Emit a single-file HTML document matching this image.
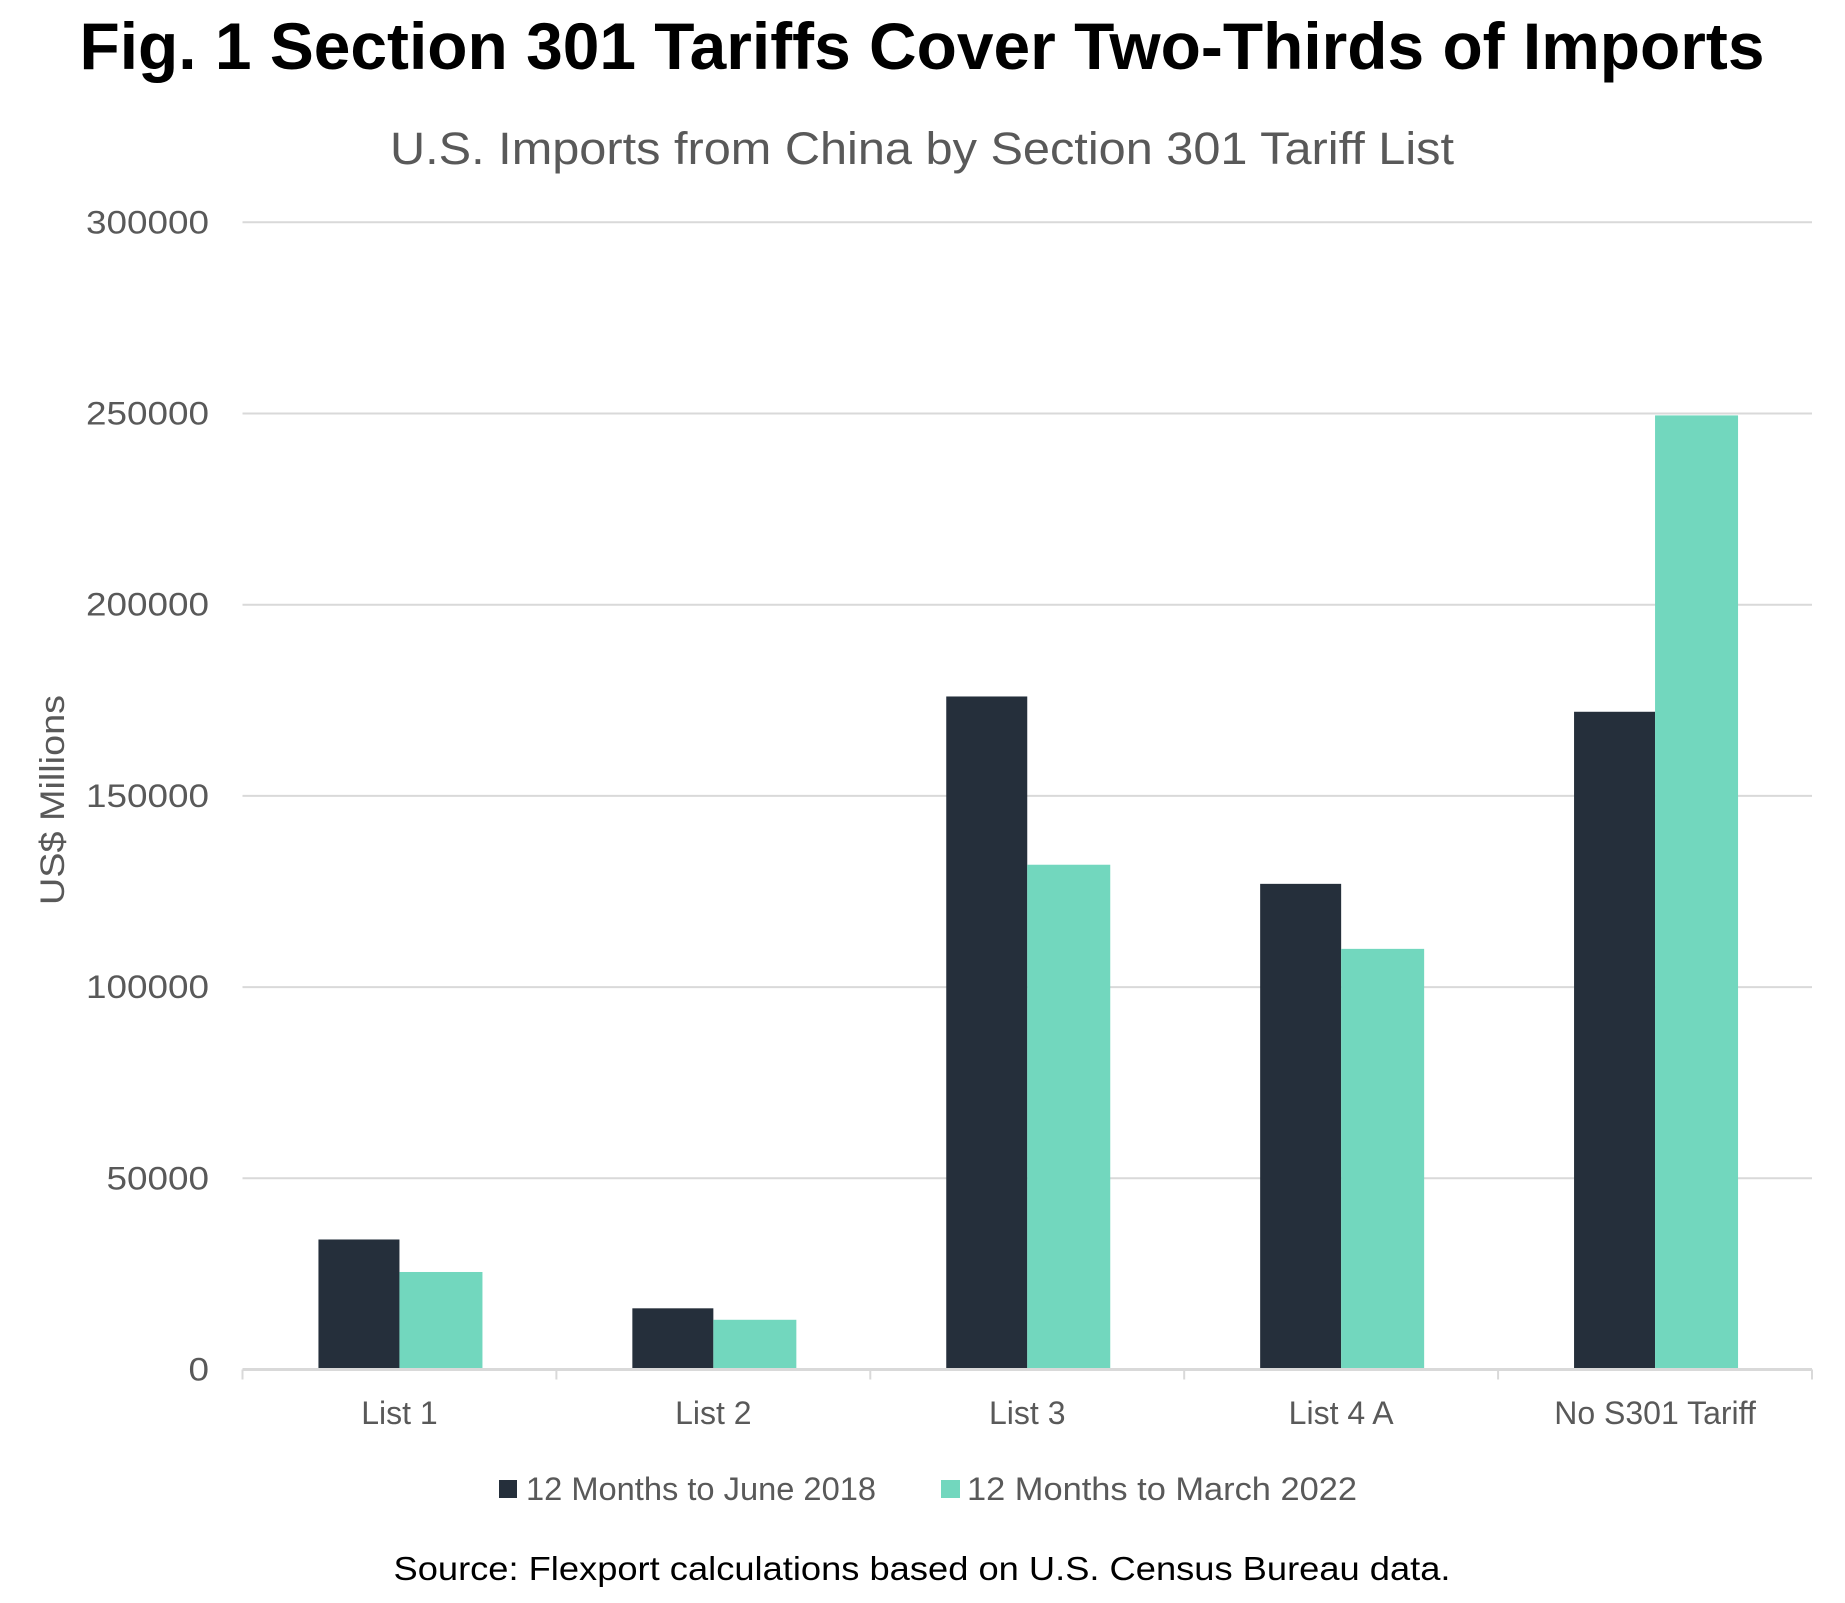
<!DOCTYPE html>
<html><head><meta charset="utf-8"><style>
html,body{margin:0;padding:0;background:#fff;}
svg{display:block;font-family:"Liberation Sans",sans-serif;}
</style></head><body>
<svg id="chart" width="1845" height="1603" viewBox="0 0 1845 1603">
<text x="922" y="69" text-anchor="middle" font-size="66" font-weight="bold" fill="#000" textLength="1685" lengthAdjust="spacingAndGlyphs">Fig. 1 Section 301 Tariffs Cover Two-Thirds of Imports</text>
<text x="922" y="164" text-anchor="middle" font-size="45" fill="#595959" textLength="1064" lengthAdjust="spacingAndGlyphs">U.S. Imports from China by Section 301 Tariff List</text>
<g id="grid"></g><g id="bars"></g><g id="axis"></g>
<text transform="translate(64,800) rotate(-90)" text-anchor="middle" font-size="34" fill="#595959" textLength="210" lengthAdjust="spacingAndGlyphs">US$ Millions</text>
<g>
<rect x="499" y="1480" width="18" height="18" fill="#252f3b"/>
<text x="526" y="1500" font-size="32" fill="#595959" textLength="350" lengthAdjust="spacingAndGlyphs">12 Months to June 2018</text>
<rect x="941" y="1480" width="19" height="18" fill="#72d7be"/>
<text x="967" y="1500" font-size="32" fill="#595959" textLength="390" lengthAdjust="spacingAndGlyphs">12  Months to March 2022</text>
</g>
<text x="922" y="1580" text-anchor="middle" font-size="33" fill="#000" textLength="1057" lengthAdjust="spacingAndGlyphs">Source: Flexport calculations based on U.S. Census Bureau data.</text>
</svg>
<script>
const categories = ["List 1","List 2","List 3","List 4 A","No S301 Tariff"];
const series2018 = [34000,16000,176000,127000,172000];
const series2022 = [25500,13000,132000,110000,249500];
const yTicks = [0,50000,100000,150000,200000,250000,300000];
const NS="http://www.w3.org/2000/svg";
const L=242.5,R=1812,T=222.3,B=1369.5,ymax=300000;
const y=v=>B-(v/ymax)*(B-T);
const cw=(R-L)/categories.length;
const x=i=>L+cw*(i+0.5);
const bw=81;
function mk(tag,attrs,parent){const e=document.createElementNS(NS,tag);for(const k in attrs)e.setAttribute(k,attrs[k]);parent.appendChild(e);return e;}
const grid=document.getElementById('grid'),bars=document.getElementById('bars'),axis=document.getElementById('axis');
yTicks.forEach(v=>{
  if(v>0){const g=mk('line',{x1:L,x2:R,y1:y(v),y2:y(v),stroke:'#d9d9d9','stroke-width':2},grid);
  
  }
  const s=String(v);
  const t=mk('text',{x:209,y:y(v)+11,'text-anchor':'end','font-size':32,fill:'#595959',textLength:s.length*20.5,lengthAdjust:'spacingAndGlyphs'},grid);
  t.textContent=s;
  
  
});
categories.forEach((c,i)=>{
  const r1=mk('rect',{x:x(i)-bw,y:y(series2018[i]),width:bw,height:B-y(series2018[i]),fill:'#252f3b'},bars);
  
  
  const r2=mk('rect',{x:x(i),y:y(series2022[i]),width:bw+2,height:B-y(series2022[i]),fill:'#72d7be'},bars);
  
  
  const t=mk('text',{x:x(i),y:1424,'text-anchor':'middle','font-size':32,fill:'#595959'},axis);
  t.textContent=c;
  
  
});
const ax=mk('line',{x1:L,x2:R,y1:B,y2:B,stroke:'#d9d9d9','stroke-width':3},axis);


for(let i=0;i<=categories.length;i++){
  const tk=mk('line',{x1:L+cw*i,x2:L+cw*i,y1:B,y2:B+10,stroke:'#d9d9d9','stroke-width':2},axis);
  
  
}
</script>
</body></html>
